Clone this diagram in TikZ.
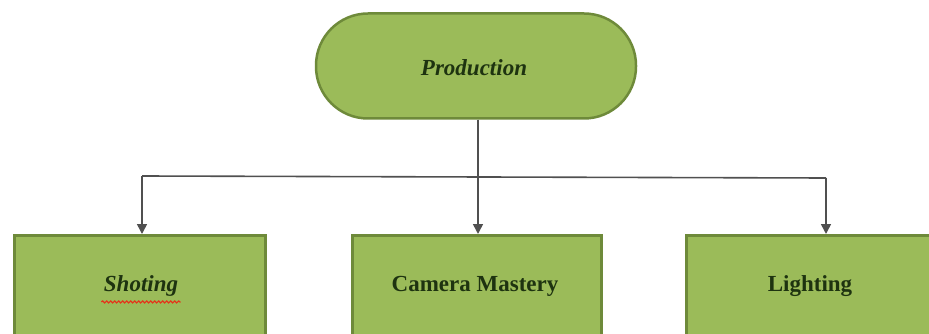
\documentclass[tikz,border=0pt]{standalone}
\usepackage{fontspec}
\setmainfont{Liberation Serif}
\usetikzlibrary{arrows.meta,decorations.pathmorphing}
\definecolor{leaf}{HTML}{9BBB59}
\definecolor{leafedge}{HTML}{6E8A3A}
\definecolor{ink}{HTML}{1E3310}
\definecolor{wire}{HTML}{505050}
\begin{document}
\begin{tikzpicture}[x=1pt,y=-1pt,
  lbl/.style={font=\fontsize{23}{27}\selectfont\bfseries, text=ink},
  task/.style={draw=leafedge, line width=2.5pt, fill=leaf, minimum width=251pt, minimum height=110pt, anchor=north west, inner sep=0pt},
  stage/.style={draw=leafedge, line width=2.5pt, fill=leaf, minimum width=320pt, minimum height=105pt, rounded corners=52pt, inner sep=0pt},
  link/.style={draw=wire, line width=1.6pt, -{Triangle[length=10pt,width=10pt]}}]
\useasboundingbox (0,0) rectangle (929,334);
\clip (0,0) rectangle (929,334);
% top stage
\node[stage] (prod) at (476,66) {};
\node[lbl, font=\fontsize{23}{27}\selectfont\bfseries\itshape] (prodtxt) at (474,68) {Production};
% three tasks
\node[task] (shot) at (13,234) {};
\node[task, minimum width=249pt] (cam) at (351,234) {};
\node[task, minimum width=260pt] (light) at (685,234) {};
\node[lbl, font=\fontsize{23}{27}\selectfont\bfseries\itshape] (shottxt) at (141,286) {Shoting};
\node[lbl] (camtxt) at (475,286) {Camera Mastery};
\node[lbl] (lighttxt) at (810,286) {Lighting};
% spelling mark under the first label
\draw[draw=red!60!brown, line width=1.2pt, decorate, decoration={snake, amplitude=1pt, segment length=4pt}]
  ([xshift=1pt,yshift=-2pt]shottxt.south west) -- ([xshift=-1pt,yshift=-2pt]shottxt.south east);
% connectors
\coordinate (fork) at (478,177);
\draw[draw=wire, line width=1.6pt] (prod.south -| fork) -- (fork);
\draw[draw=wire, line width=1.6pt] (142,176) -- (826,178);
\draw[link] (142,176) -- (shot.north -| 142,0);
\draw[link] (fork) -- (cam.north -| fork);
\draw[link] (826,178) -- (light.north -| 826,0);
\end{tikzpicture}
\end{document}
